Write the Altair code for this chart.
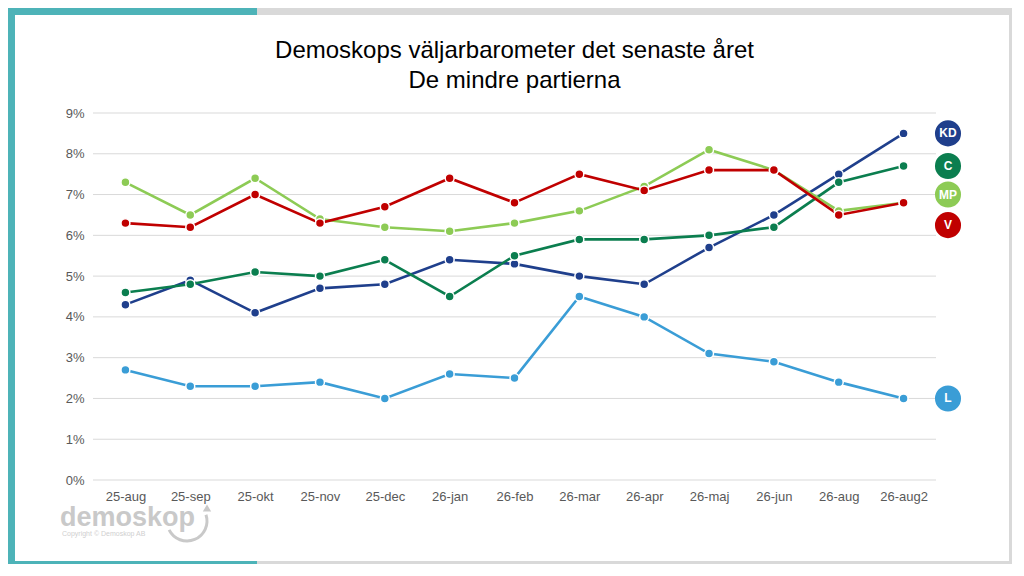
import altair as alt
import pandas as pd

periods = ["25-aug", "25-sep", "25-okt", "25-nov", "25-dec", "26-jan", "26-feb",
           "26-mar", "26-apr", "26-maj", "26-jun", "26-aug", "26-aug2"]
parties = ["L", "KD", "C", "MP", "V"]
colors = ["#3A9DD6", "#1F3F8C", "#0B7E4F", "#8DCB55", "#C00000"]
sizes = [80, 80, 80, 80, 160]

L_vals = [2.7, 2.3, 2.3, 2.4, 2.0, 2.6, 2.5, 4.5, 4.0, 3.1, 2.9, 2.4, 2.0]
KD_vals = [4.3, 4.9, 4.1, 4.7, 4.8, 5.4, 5.3, 5.0, 4.8, 5.7, 6.5, 7.5, 8.5]
C_vals = [4.6, 4.8, 5.1, 5.0, 5.4, 4.5, 5.5, 5.9, 5.9, 6.0, 6.2, 7.3, 7.7]
MP_vals = [7.3, 6.5, 7.4, 6.4, 6.2, 6.1, 6.3, 6.6, 7.2, 8.1, 7.6, 6.6, 6.8]
V_vals = [6.3, 6.2, 7.0, 6.3, 6.7, 7.4, 6.8, 7.5, 7.1, 7.6, 7.6, 6.5, 6.8]

# end labels (de-overlapped positions on the value scale)
label_names = ["KD", "C", "MP", "V", "L"]
label_pos = [8.5, 7.7, 7.0, 6.25, 2.0]

grid_vals = [0, 1, 2, 3, 4, 5, 6, 7, 8, 9]

title_lines = ["Demoskops väljarbarometer det senaste året", "De mindre partierna"]

series = {"L": L_vals, "KD": KD_vals, "C": C_vals, "MP": MP_vals, "V": V_vals}
rows = []
for p in parties:
    for per, v in zip(periods, series[p]):
        rows.append({"party": p, "period": per, "value": v})
df = pd.DataFrame(rows)
lab_df = pd.DataFrame({"party": label_names, "value": label_pos})
grid_df = pd.DataFrame({"value": grid_vals})
one = pd.DataFrame({"a": [0]})

W, H = 843, 367
FONT = "Liberation Sans"

color_scale = alt.Scale(domain=parties, range=colors)
x_enc = alt.X("period:N", sort=periods,
              scale=alt.Scale(type="point", padding=0.5),
              axis=alt.Axis(title=None, labelAngle=0, grid=False, domain=False, ticks=False,
                            labelPadding=10, labelFontSize=13, labelColor="#595959",
                            labelFont=FONT, zindex=1))
y_scale = alt.Scale(domain=[0, 9], nice=False)
y_axis = alt.Axis(title=None, grid=False, domain=False, ticks=False,
                  values=grid_vals, labelExpr="datum.value + '%'",
                  labelPadding=9, labelFontSize=13, labelColor="#595959",
                  labelFont=FONT, zindex=1)
y_enc = alt.Y("value:Q", scale=y_scale, axis=y_axis)

def rect(x, x2, y, y2, color):
    return alt.Chart(one).mark_rect(color=color, clip=False).encode(
        x=alt.value(x), x2=alt.value(x2), y=alt.value(y), y2=alt.value(y2))

TEAL = "#4DB3B8"
bg = [
    rect(-78, 916, -98, 448, "#FFFFFF"),
    rect(-93, 164, -113, -98, TEAL),
    rect(-93, -78, -113, 470, TEAL),
    rect(-93, 164, 448, 470, TEAL),
]

grid = alt.Chart(grid_df).mark_rule(color="#D9D9D9", strokeWidth=1).encode(
    y=y_enc, x=alt.value(0), x2=alt.value(W))

lines = alt.Chart(df).mark_line(strokeWidth=2.6).encode(
    x=x_enc, y=y_enc,
    color=alt.Color("party:N", scale=color_scale, legend=None),
    detail="party:N")

points = alt.Chart(df).mark_point(filled=True, opacity=1, stroke="white",
                                  strokeWidth=1.5, shape="circle").encode(
    x=alt.X("period:N", sort=periods), y=y_enc,
    fill=alt.Fill("party:N", scale=color_scale, legend=None),
    size=alt.Size("party:N", scale=alt.Scale(domain=parties, range=sizes), legend=None))

lab_circ = alt.Chart(lab_df).mark_point(filled=True, opacity=1, shape="circle",
                                        size=680, clip=False).encode(
    x=alt.value(855), y=y_enc,
    fill=alt.Fill("party:N", scale=color_scale, legend=None))
lab_text = alt.Chart(lab_df).mark_text(color="white", fontWeight="bold", fontSize=12,
                                       font=FONT, align="center", baseline="middle",
                                       clip=False).encode(
    x=alt.value(855), y=y_enc, text="party:N")

title1 = alt.Chart(one).mark_text(text=title_lines[0], fontSize=24, font=FONT, color="#000000",
                                  align="center", baseline="alphabetic").encode(
    x=alt.value(W / 2), y=alt.value(-55))
title2 = alt.Chart(one).mark_text(text=title_lines[1], fontSize=24, font=FONT, color="#000000",
                                  align="center", baseline="alphabetic").encode(
    x=alt.value(W / 2), y=alt.value(-25))

logo = alt.Chart(one).mark_text(text="demoskop", fontSize=27, fontWeight="bold", font=FONT,
                                color="#C9C9C9", align="left", baseline="alphabetic").encode(
    x=alt.value(-33), y=alt.value(413))
copy = alt.Chart(one).mark_text(text="Copyright © Demoskop AB", fontSize=7, font=FONT,
                                color="#CFCFCF", align="left", baseline="alphabetic").encode(
    x=alt.value(-31), y=alt.value(423))
arc = alt.Chart(one).mark_arc(theta=1.25, theta2=4.25, innerRadius=18.5, radius=21.5,
                              color="#C9C9C9").encode(
    x=alt.value(94), y=alt.value(408))
arrow = alt.Chart(one).mark_point(shape="triangle-up", filled=True, opacity=1, size=70,
                                  color="#C9C9C9").encode(
    x=alt.value(114), y=alt.value(395))

chart = alt.layer(*bg, grid, lines, points, lab_circ, lab_text, title1, title2,
                  logo, copy, arc, arrow).properties(
    width=W, height=H,
    autosize=alt.AutoSizeParams(type="none"),
    padding={"left": 85, "top": 105, "right": 76, "bottom": 84},
    background="#D9D9D9",
).configure_view(stroke=None)

chart.save("out.html", embed_options={"renderer": "svg", "actions": False})
